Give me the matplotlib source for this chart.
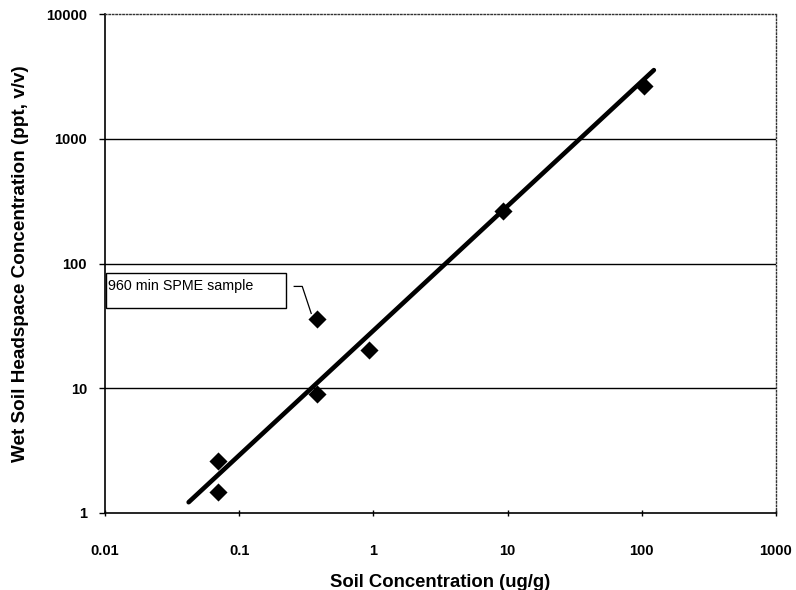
import matplotlib
matplotlib.use("Agg")
import matplotlib.pyplot as plt
from matplotlib.patches import Rectangle

plt.rcParams['font.family'] = ['Liberation Sans', 'DejaVu Sans']

# Measured soil concentrations and headspace responses
soil_conc = [0.07, 0.07, 0.38, 0.38, 0.93, 9.3, 103]
headspace_conc = [2.6, 1.47, 36, 8.95, 20.1, 265, 2650]

# Power-law trend line (slope ~1 on log-log axes)
trend_x = [0.042, 123]
trend_y = [1.22, 3550]

x_ticks = [0.01, 0.1, 1, 10, 100, 1000]
x_tick_labels = ["0.01", "0.1", "1", "10", "100", "1000"]
y_ticks = [1, 10, 100, 1000, 10000]
y_tick_labels = ["1", "10", "100", "1000", "10000"]

annot_text = "960 min SPME sample"
# Leader line from the callout box down to the 960 min point
leader_x = [0.257, 0.295, 0.344]
leader_y = [65.5, 65.5, 39.8]

fig = plt.figure(figsize=(7.96, 5.90), dpi=100)
ax = fig.add_axes([105 / 796, 1 - 513 / 590, (776 - 105) / 796, (513 - 14) / 590])

ax.set_xscale('log')
ax.set_yscale('log')
ax.set_xlim(0.01, 1000)
ax.set_ylim(1, 10000)

# Horizontal gridlines at decades
for yv in y_ticks[1:-1]:
    ax.axhline(yv, color='black', lw=1.0, zorder=1)

ax.plot(trend_x, trend_y, color='black', lw=3.3, solid_capstyle='round', zorder=3)
ax.scatter(soil_conc, headspace_conc, marker='D', s=85, color='black', zorder=4, linewidths=0)

ax.set_xticks(x_ticks)
ax.set_xticklabels(x_tick_labels)
ax.set_yticks(y_ticks)
ax.set_yticklabels(y_tick_labels)
ax.minorticks_off()
ax.tick_params(axis='both', which='major', labelsize=10.5, length=4, width=1, color='black')
ax.tick_params(axis='x', direction='inout', pad=20)
ax.tick_params(axis='y', direction='out', pad=9)
for lbl in ax.get_xticklabels() + ax.get_yticklabels():
    lbl.set_fontweight('bold')

for side in ['left', 'bottom']:
    ax.spines[side].set_color('black')
    ax.spines[side].set_linewidth(1.2)
for side in ['top', 'right']:
    ax.spines[side].set_color('#333333')
    ax.spines[side].set_linewidth(1.0)
    ax.spines[side].set_linestyle((0, (1, 1.5)))

ax.set_xlabel("Soil Concentration (ug/g)", fontsize=13.3, fontweight='bold', labelpad=12)
ax.set_ylabel("Wet Soil Headspace Concentration (ppt, v/v)", fontsize=13.6, fontweight='bold', labelpad=12)

# Callout box
ax.add_patch(Rectangle((0.0015, 0.411), 0.268, 0.070, transform=ax.transAxes,
                       fc='white', ec='black', lw=1.0, zorder=5))
ax.text(0.0045, 0.455, annot_text, transform=ax.transAxes, fontsize=10.3,
        va='center', ha='left', zorder=6)
ax.plot(leader_x, leader_y, color='black', lw=0.9, zorder=5)

fig.savefig("out.png", dpi=100)
